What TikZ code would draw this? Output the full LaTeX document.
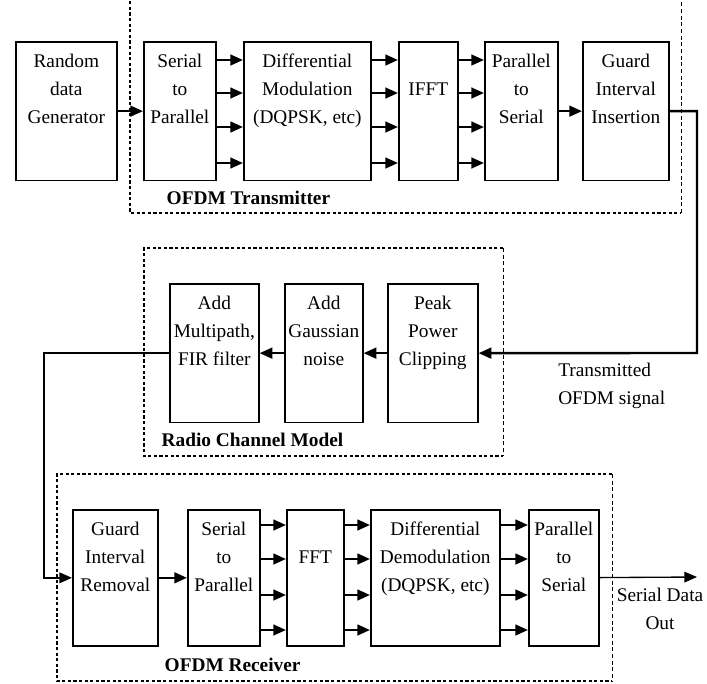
\documentclass[tikz,border=0pt]{standalone}
\usepackage{fontspec}
\setmainfont{Liberation Serif}
\usetikzlibrary{arrows.meta}
\tikzset{
  blk/.style={draw,line width=1.2pt,anchor=north west,align=center,inner xsep=0pt,inner ysep=0pt,text height=61.5pt,text depth=42.5pt},
  ar/.style={-{Triangle[length=9.5pt,width=8pt]},line width=1.8pt},
  arthin/.style={-{Triangle[length=9.5pt,width=8pt]},line width=1pt},
  grp/.style={line width=1.7pt,dash pattern=on 2.4pt off 1.8pt},
  grpr/.style={line width=0.7pt,dash pattern=on 3pt off 2pt},
  ttl/.style={anchor=base west,font=\fontsize{14.5}{21}\selectfont\bfseries}
}
% \blk[opts]{name}{x left}{x right}{y top}{text}
\newcommand{\blk}[6][]{\node[blk,#1,minimum width={(#4-#3)*0.75pt}] (#2) at (#3,#5) {#6};}

\begin{document}
\begin{tikzpicture}[x=0.75pt,y=-0.75pt,font=\fontsize{14.5}{21}\selectfont]
\useasboundingbox (0,0) rectangle (707,683);
% group frames
\draw[grp] (130,-10) -- (130,213) -- (681,213);
\draw[grpr] (681,213) -- (681,-10);
\draw[grp] (503,248) -- (144,248) -- (144,456) -- (503,456);
\draw[grpr] (503,248) -- (503,456);
\draw[grp] (612,474) -- (57,474) -- (57,681) -- (612,681);
\draw[grpr] (612,474) -- (612,681);
% transmitter
\blk{rdg}{15}{116}{41}{Random\\data\\Generator}
\blk{s2p}{143}{215}{41}{Serial\\to\\Parallel}
\blk{dmod}{243}{370}{41}{Differential\\Modulation\\(DQPSK, etc)}
\blk[text height=40.5pt,text depth=63.5pt]{ifft}{398}{457}{41}{IFFT}
\blk{p2s}{484}{557}{41}{Parallel\\to\\Serial}
\blk{gii}{582}{668}{41}{Guard\\Interval\\Insertion}
% channel
\blk{amf}{169}{258}{283}{Add\\Multipath,\\FIR filter}
\blk{agn}{284}{362}{283}{Add\\Gaussian\\noise}
\blk{ppc}{387}{477}{283}{Peak\\Power\\Clipping}
% receiver
\blk[text depth=40.5pt]{gir}{72}{157}{509}{Guard\\Interval\\Removal}
\blk[text depth=40.5pt]{s2pb}{187}{259}{509}{Serial\\to\\Parallel}
\blk[text height=40.5pt,text depth=61.5pt]{fft}{286}{343}{509}{FFT}
\blk[text depth=40.5pt]{ddm}{370}{499}{509}{Differential\\Demodulation\\(DQPSK, etc)}
\blk[text depth=40.5pt]{p2sb}{528}{598}{509}{Parallel\\to\\Serial}
% labels
\node[ttl] (txl) at (162,204) {OFDM Transmitter};
\node[ttl] (rcl) at (157,446) {Radio Channel Model};
\node[ttl] (rxl) at (160,671) {OFDM Receiver};
\node[anchor=base west,align=left,inner sep=0pt] (tsig) at (558,404) {Transmitted\\OFDM signal};
\node[anchor=base,align=center,inner sep=0pt] (sdol) at (660,629) {Serial Data\\Out};
% connectors
\coordinate (txc) at (697,353);
\coordinate (bend) at (44,465);
\coordinate (sdo) at (697,577);
\draw[ar] (rdg) -- (s2p);
\foreach \yy in {60,93,127,163}{
  \draw[ar] (s2p.east |- 0,\yy) -- (dmod.west |- 0,\yy);
  \draw[ar] (dmod.east |- 0,\yy) -- (ifft.west |- 0,\yy);
  \draw[ar] (ifft.east |- 0,\yy) -- (p2s.west |- 0,\yy);
}
\draw[ar] (p2s) -- (gii);
\draw[ar] (gii.east) -| (txc) -- (ppc.east);
\draw[ar] (ppc) -- (agn);
\draw[ar] (agn) -- (amf);
\draw[ar,line width=1.3pt] (amf.west) -| (bend) |- (gir.west);
\draw[ar] (gir) -- (s2pb);
\foreach \yy in {525,559,595,630}{
  \draw[ar] (s2pb.east |- 0,\yy) -- (fft.west |- 0,\yy);
  \draw[ar] (fft.east |- 0,\yy) -- (ddm.west |- 0,\yy);
  \draw[ar] (ddm.east |- 0,\yy) -- (p2sb.west |- 0,\yy);
}
\draw[arthin] (p2sb) -- (sdo);
\end{tikzpicture}
\end{document}
